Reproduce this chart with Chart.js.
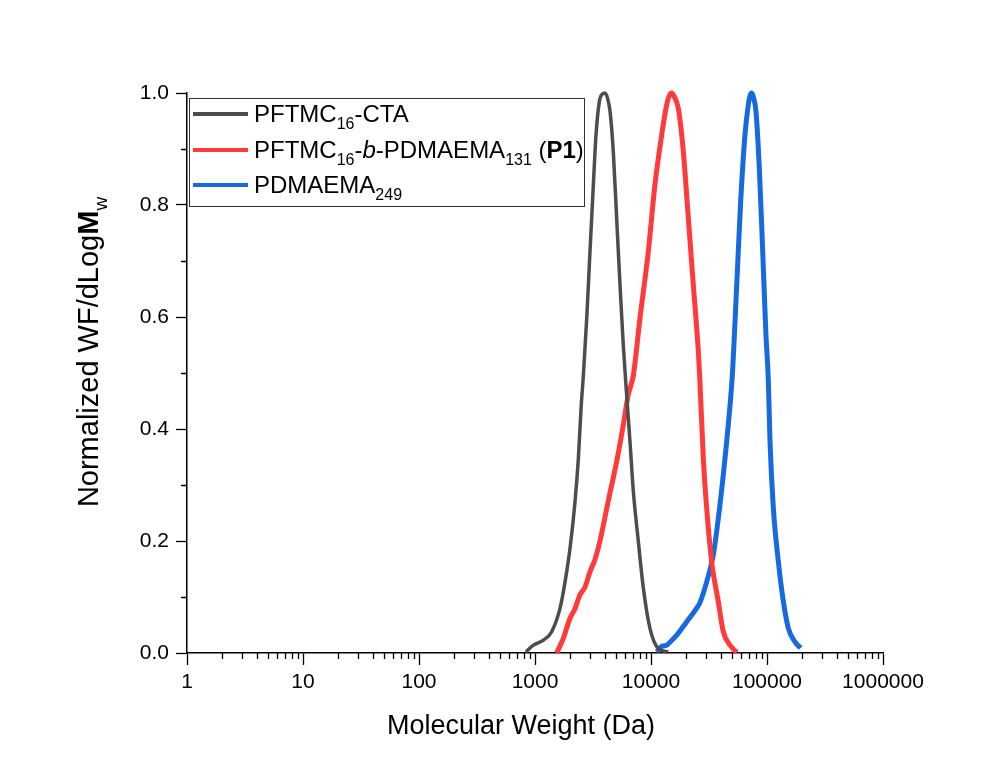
<!DOCTYPE html>
<html>
<head>
<meta charset="utf-8">
<script src="https://cdn.jsdelivr.net/npm/chart.js@4/dist/chart.umd.min.js"></script>
<style>
  html, body { margin: 0; padding: 0; background: #fff; }
  #wrap { width: 1008px; height: 777px; }
</style>
</head>
<body>
<div id="wrap"><canvas id="gpc" width="1008" height="777"></canvas></div>
<script>
// GPC traces (molecular weight in Da, normalized WF/dLogMw)
const ctaMw = [836, 968, 1180, 1393, 1644, 1816, 2004, 2213, 2366, 2495, 2612, 2793, 2979, 3184, 3357, 3589, 3800, 4009,
  4230, 4436, 4732, 5058, 5408, 5768, 6166, 6592, 7047, 7780, 8590, 9795, 11560, 14090];
const ctaWF = [0.002, 0.014, 0.023, 0.038, 0.080, 0.127, 0.187, 0.270, 0.348, 0.437, 0.496, 0.598, 0.717, 0.836, 0.925, 0.985, 0.998, 1.0,
  0.990, 0.967, 0.895, 0.776, 0.657, 0.550, 0.461, 0.377, 0.288, 0.199, 0.116, 0.044, 0.008, 0.002];

const p1Mw = [1538, 1754, 2004, 2200, 2443, 2700, 2979, 3300, 3631, 4285, 5058, 5768, 6368, 7047, 8035, 9484, 10810, 12360, 13650,
  14300, 15070, 16000, 17180, 19010, 20990, 23170, 25590, 26420, 28250, 30200, 33340, 38020, 41980, 47970, 54830];
const p1WF = [0.0, 0.026, 0.062, 0.078, 0.104, 0.118, 0.145, 0.168, 0.200, 0.272, 0.342, 0.407, 0.461, 0.496, 0.598, 0.717, 0.836, 0.925, 0.979,
  0.994, 1.0, 0.992, 0.973, 0.895, 0.776, 0.657, 0.538, 0.484, 0.348, 0.258, 0.163, 0.092, 0.038, 0.014, 0.001];

const homoMw = [11190, 12400, 13650, 15000, 16670, 20320, 24770, 26420, 30200, 34430, 38020, 41980, 46340, 50230, 54830, 59290, 64570,
  69020, 71400, 73790, 76500, 80350, 85900, 91830, 97950, 102560, 106170, 113500, 125310, 138360, 152760, 174180, 194980];
const homoWF = [0.002, 0.012, 0.014, 0.022, 0.032, 0.056, 0.080, 0.090, 0.127, 0.175, 0.240, 0.318, 0.407, 0.496, 0.657, 0.806, 0.925,
  0.979, 0.995, 1.0, 0.992, 0.967, 0.865, 0.717, 0.568, 0.490, 0.377, 0.258, 0.163, 0.092, 0.044, 0.020, 0.009];

const xTicks = [1, 10, 100, 1000, 10000, 100000, 1000000];
const yTicks = [0, 0.2, 0.4, 0.6, 0.8, 1.0];
const yMinorTicks = [0.1, 0.3, 0.5, 0.7, 0.9];

const FONT = '"Liberation Sans", Arial, sans-serif';
const seriesColors = ['#4d4d4d', '#ff3a3a', '#1769e0'];

const legendItems = [
  [{ t: 'PFTMC' }, { t: '16', sub: true }, { t: '-CTA' }],
  [{ t: 'PFTMC' }, { t: '16', sub: true }, { t: '-' }, { t: 'b', italic: true }, { t: '-PDMAEMA' }, { t: '131', sub: true },
    { t: ' (' }, { t: 'P1', bold: true }, { t: ')' }],
  [{ t: 'PDMAEMA' }, { t: '249', sub: true }]
];

function toPoints(xs, ys) {
  return xs.map((x, i) => ({ x: x, y: ys[i] }));
}

function segFont(s, size) {
  const sz = s.sub ? Math.round(size * 0.66) : size;
  return (s.italic ? 'italic ' : '') + (s.bold ? 'bold ' : '') + sz + 'px ' + FONT;
}

function richWidth(ctx, segs, size) {
  let w = 0;
  segs.forEach(s => { ctx.font = segFont(s, size); w += ctx.measureText(s.t).width; });
  return w;
}

function drawRich(ctx, segs, x, y, size) {
  segs.forEach(s => {
    ctx.font = segFont(s, size);
    ctx.fillText(s.t, x, s.sub ? y + size * 0.3 : y);
    x += ctx.measureText(s.t).width;
  });
}

// minor ticks, axis titles and the boxed legend
const decorations = {
  id: 'decorations',
  afterDraw(chart) {
    const ctx = chart.ctx;
    const xs = chart.scales.x, ys = chart.scales.y;
    const area = chart.chartArea;
    ctx.save();
    ctx.strokeStyle = '#000';
    ctx.lineWidth = 1.3;
    ctx.beginPath();
    for (let d = 1; d < 1000000; d *= 10) {
      for (let m = 2; m <= 9; m++) {
        const px = Math.round(xs.getPixelForValue(m * d)) + 0.5;
        ctx.moveTo(px, area.bottom);
        ctx.lineTo(px, area.bottom + 6);
      }
    }
    yMinorTicks.forEach(v => {
      const py = Math.round(ys.getPixelForValue(v)) + 0.5;
      ctx.moveTo(area.left, py);
      ctx.lineTo(area.left - 6, py);
    });
    ctx.stroke();

    ctx.fillStyle = '#000';
    ctx.textBaseline = 'alphabetic';
    ctx.textAlign = 'left';

    // x title
    ctx.font = '27px ' + FONT;
    const xt = 'Molecular Weight (Da)';
    ctx.fillText(xt, 521 - ctx.measureText(xt).width / 2, 734);

    // y title
    const yt = [{ t: 'Normalized WF/dLog' }, { t: 'M', bold: true }, { t: 'w', sub: true }];
    ctx.save();
    ctx.translate(98, 352);
    ctx.rotate(-Math.PI / 2);
    drawRich(ctx, yt, -richWidth(ctx, yt, 29) / 2, 0, 29);
    ctx.restore();

    // legend
    ctx.strokeStyle = '#333';
    ctx.lineWidth = 1;
    ctx.strokeRect(189.5, 98.5, 395, 108);
    const rows = [114, 150, 185];
    legendItems.forEach((segs, i) => {
      ctx.strokeStyle = seriesColors[i];
      ctx.lineWidth = 4;
      ctx.beginPath();
      ctx.moveTo(193, rows[i]);
      ctx.lineTo(248, rows[i]);
      ctx.stroke();
      drawRich(ctx, segs, 254, rows[i] + 8, 24);
    });
    ctx.restore();
  }
};

new Chart(document.getElementById('gpc'), {
  type: 'line',
  data: {
    datasets: [
      { label: 'PFTMC16-CTA', data: toPoints(ctaMw, ctaWF), borderColor: seriesColors[0], borderWidth: 3.5 },
      { label: 'PFTMC16-b-PDMAEMA131 (P1)', data: toPoints(p1Mw, p1WF), borderColor: seriesColors[1], borderWidth: 5 },
      { label: 'PDMAEMA249', data: toPoints(homoMw, homoWF), borderColor: seriesColors[2], borderWidth: 5 }
    ]
  },
  options: {
    responsive: false,
    devicePixelRatio: 1,
    animation: false,
    layout: { padding: { top: 93, right: 125, bottom: 0, left: 0 } },
    elements: {
      point: { radius: 0 },
      line: { cubicInterpolationMode: 'monotone', fill: false }
    },
    datasets: { line: { clip: 6 } },
    plugins: { legend: { display: false }, tooltip: { enabled: false } },
    scales: {
      x: {
        type: 'logarithmic',
        min: 1,
        max: 1000000,
        afterBuildTicks: s => { s.ticks = xTicks.map(v => ({ value: v, major: true })); },
        afterFit: s => { s.height = 124; },
        ticks: {
          callback: v => String(v),
          font: { family: FONT, size: 21 },
          color: '#000',
          maxRotation: 0,
          autoSkip: false,
          padding: 5
        },
        grid: { drawOnChartArea: false, drawTicks: true, tickLength: 12, tickColor: '#000', tickWidth: 1.3 },
        border: { display: true, color: '#000', width: 1.5 }
      },
      y: {
        min: 0,
        max: 1,
        afterBuildTicks: s => { s.ticks = yTicks.map(v => ({ value: v })); },
        afterFit: s => { s.width = 187; },
        ticks: {
          callback: v => Number(v).toFixed(1),
          font: { family: FONT, size: 21 },
          color: '#000',
          padding: 7
        },
        grid: { drawOnChartArea: false, drawTicks: true, tickLength: 11, tickColor: '#000', tickWidth: 1.3 },
        border: { display: true, color: '#000', width: 1.5 }
      }
    }
  },
  plugins: [decorations]
});
</script>
</body>
</html>
